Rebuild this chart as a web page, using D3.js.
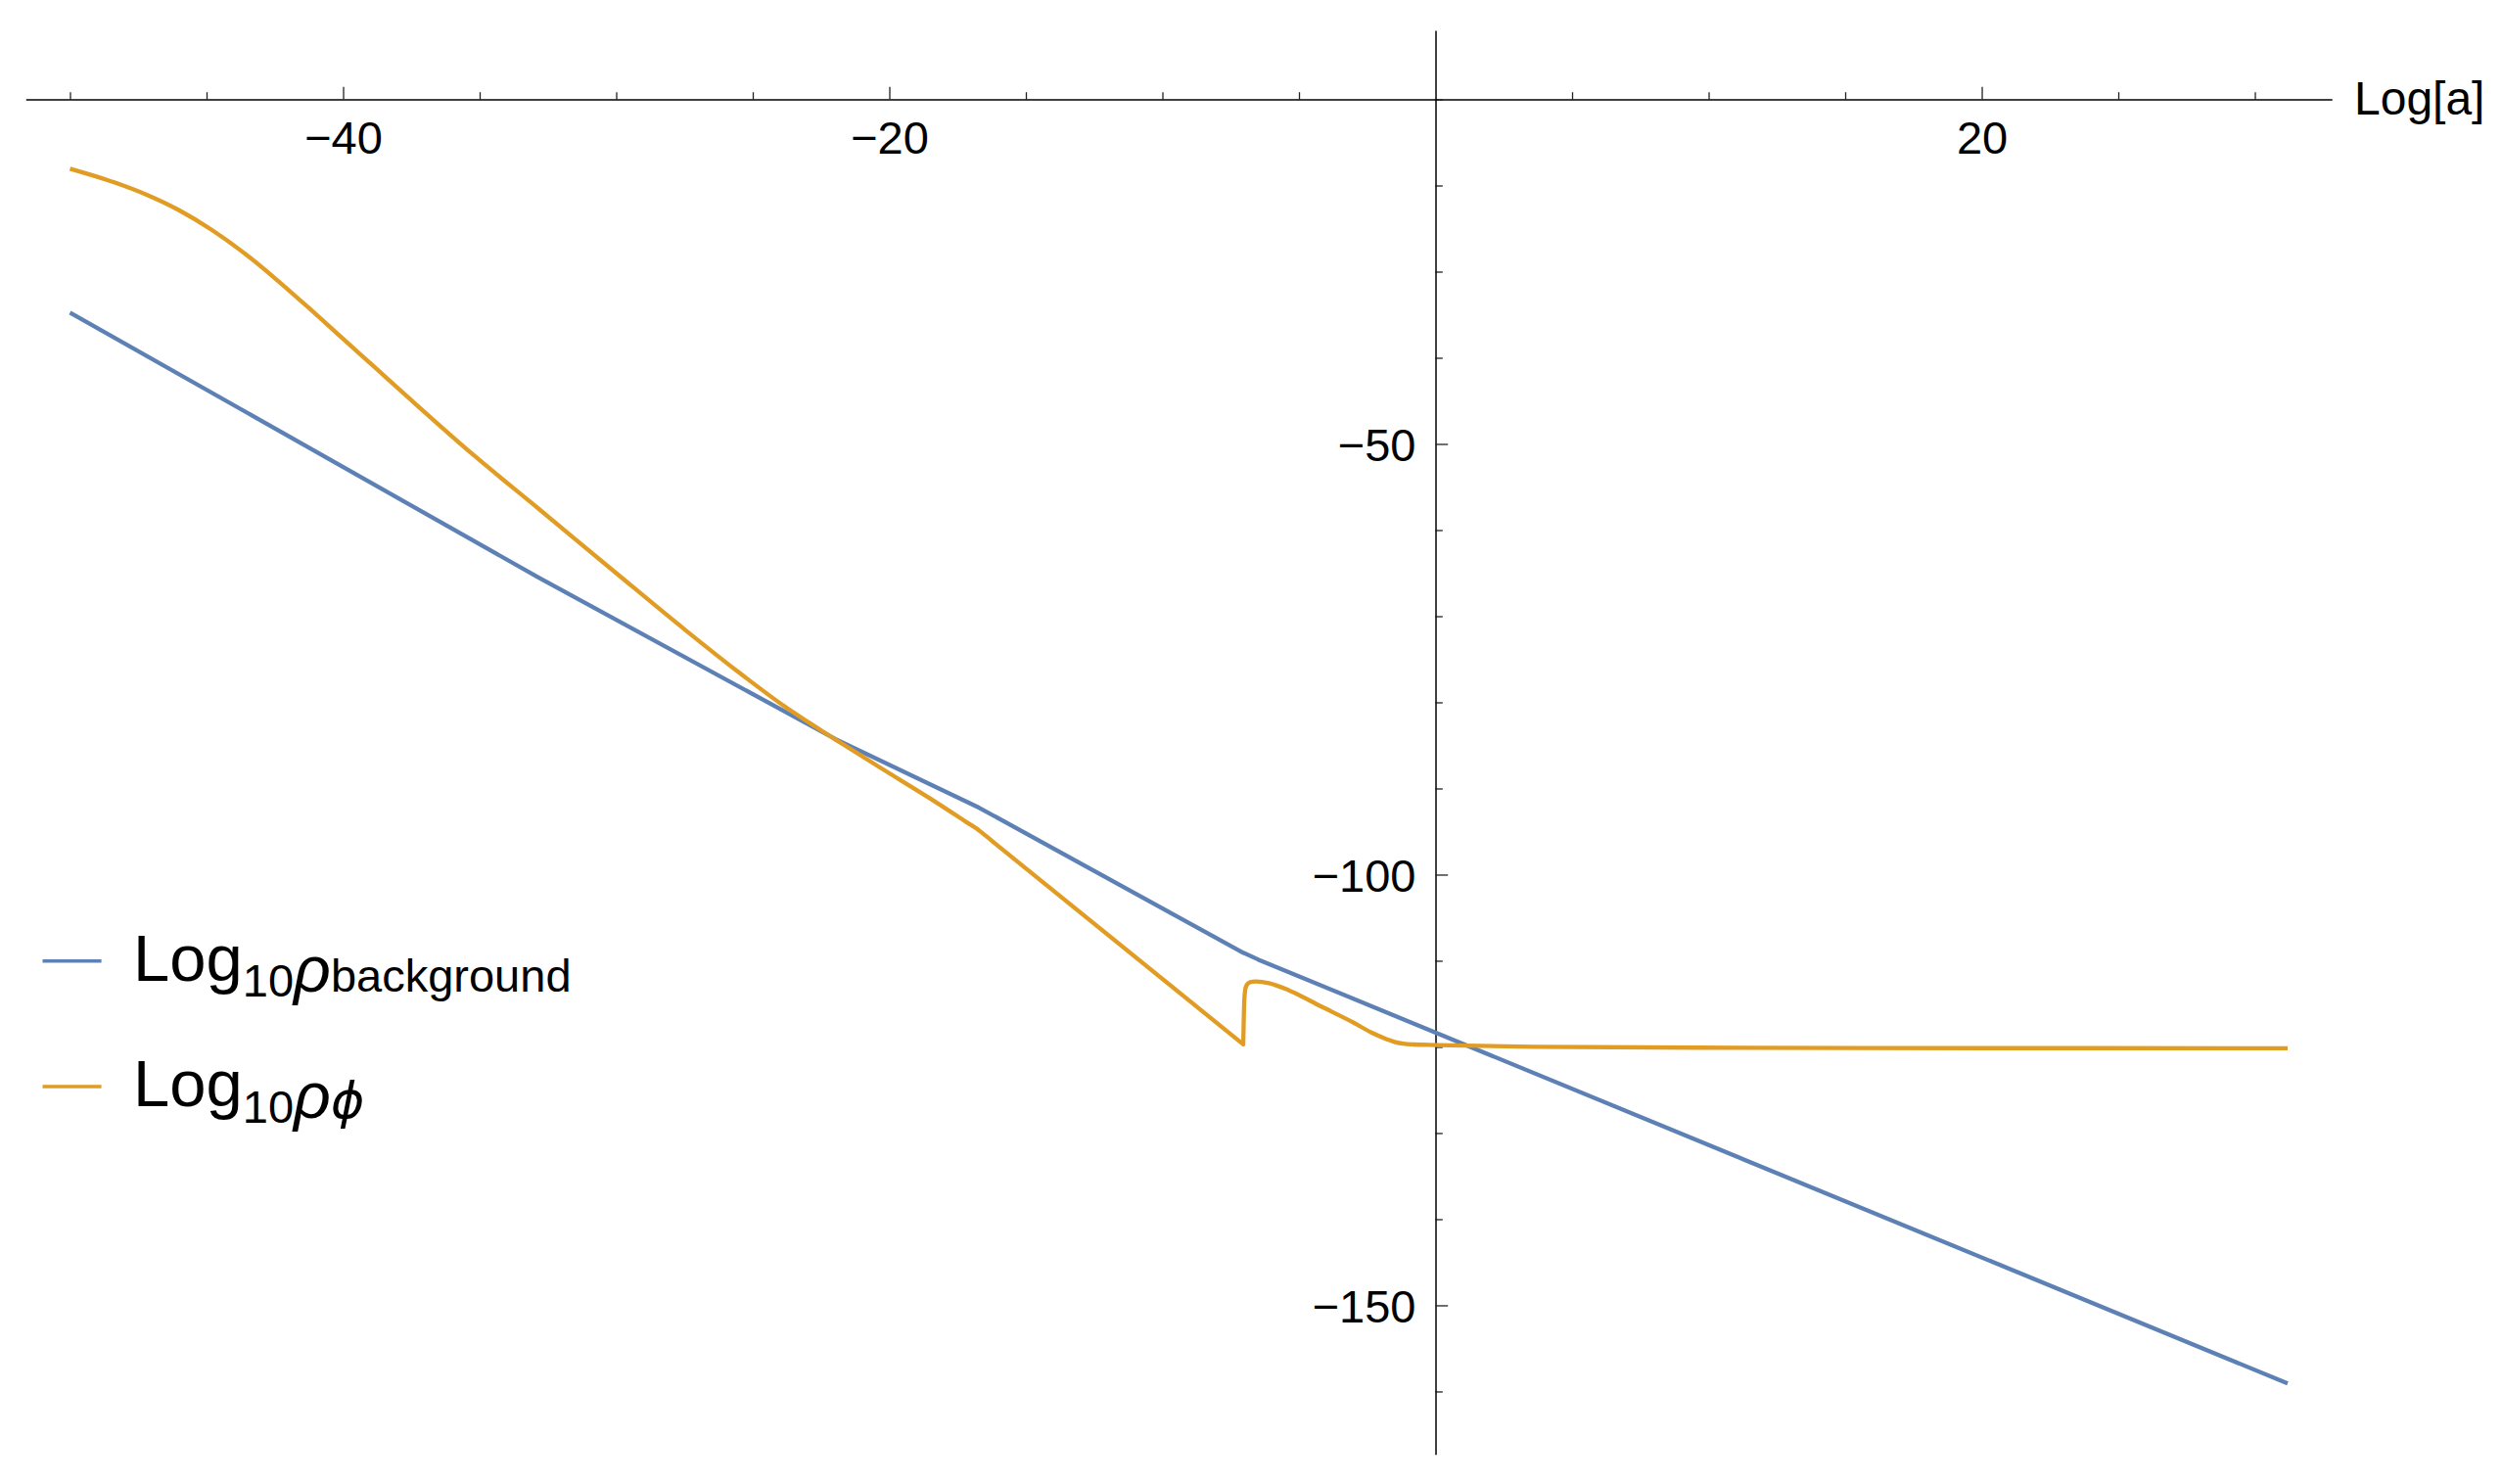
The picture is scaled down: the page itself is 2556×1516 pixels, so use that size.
<!DOCTYPE html>
<html>
<head>
<meta charset="utf-8">
<script src="https://cdn.jsdelivr.net/npm/d3@7"></script>
<style>
  body { margin: 0; background: #fff; }
  svg { display: block; }
</style>
</head>
<body>
<div class="chart"></div>
<script>
// values: [Log[a], Log10 rho]
const backgroundPoints = [
  [-50, -34.75], [-32.85, -65.5], [-21.98, -84.26], [-16.72, -92.22],
  [-7.04, -109.07], [-6.5, -109.85], [31.2, -159.07]
];
// phi before the jump
const phiBefore = [
  [-50, -18.05], [-48.38, -19.64], [-47.19, -21.08], [-45.99, -22.9],
  [-44.8, -25.17], [-43.6, -27.9], [-42.41, -31.0], [-41.21, -34.34],
  [-40.02, -37.75], [-38.82, -41.16], [-37.63, -44.56], [-35.24, -51.25],
  [-32.85, -57.5], [-30.0, -65.0], [-27.47, -71.6], [-25.6, -76.3],
  [-23.89, -80.35], [-21.98, -84.3], [-20.3, -87.65], [-18.51, -91.15],
  [-17.2, -93.85], [-16.72, -94.85], [-16.2, -96.2], [-7.04, -119.7]
];
// phi from the jump on
const phiAfter = [
  [-7.04, -119.7], [-7.0, -114.5], [-6.95, -113.1],
  [-6.85, -112.6], [-6.7, -112.43], [-6.57, -112.41], [-6.1, -112.6],
  [-5.37, -113.43], [-4.18, -115.32], [-2.98, -117.22],
  [-2.37, -118.3], [-1.78, -119.11], [-1.47, -119.45], [-1.19, -119.63],
  [-0.8, -119.72], [0.01, -119.78], [3.59, -119.98], [9.56, -120.09],
  [15.54, -120.14], [31.2, -120.15]
];
const xTickMajor = [-40, -20, 20];
const xTickMinor = [-50, -45, -35, -30, -25, -15, -10, -5, 5, 10, 15, 25, 30];
const yTickMajor = [-50, -100, -150];
const yTickMinor = [-10, -20, -30, -40, -60, -70, -80, -90, -110, -120, -130, -140, -160];
const xAxisLabel = "Log[a]";
const legendSubs = ["background", "\u03D5"];
const seriesColors = ["#5E81B5", "#E19C24"];

const svgWidth = 2556;
const svgHeight = 1516;
const font = '"Liberation Sans", Arial, sans-serif';
const minus = (d) => (d < 0 ? "\u2212" + Math.abs(d) : "" + d);

const svg = d3.select(".chart").append("svg")
  .attr("width", svgWidth)
  .attr("height", svgHeight);

const xScale = d3.scaleLinear().domain([-51.62, 32.82]).range([26.3, 2382.2]);
const yScale = d3.scaleLinear().domain([-167.3, -2]).range([1485.7, 31.1]);

const xAxisY = yScale(-10);
const yAxisX = xScale(0);

// x axis: ticks point up, labels below
const xMinorG = svg.append("g")
  .attr("transform", `translate(0, ${xAxisY})`)
  .call(d3.axisBottom(xScale).tickValues(xTickMinor).tickFormat("").tickSize(-7.3).tickSizeOuter(0));
xMinorG.select(".domain").remove();

const xAxisG = svg.append("g")
  .attr("transform", `translate(0, ${xAxisY})`)
  .call(d3.axisBottom(xScale).tickValues(xTickMajor).tickFormat(minus)
    .tickSize(-12.7).tickSizeOuter(0).tickPadding(22));
xAxisG.attr("font-size", 47).attr("font-family", font);
xAxisG.select(".domain").attr("stroke", "#000").attr("stroke-width", 1.5);

// y axis: ticks point right, labels left
const yMinorG = svg.append("g")
  .attr("transform", `translate(${yAxisX}, 0)`)
  .call(d3.axisLeft(yScale).tickValues(yTickMinor).tickFormat("").tickSize(-7.3).tickSizeOuter(0));
yMinorG.select(".domain").remove();

const yAxisG = svg.append("g")
  .attr("transform", `translate(${yAxisX}, 0)`)
  .call(d3.axisLeft(yScale).tickValues(yTickMajor).tickFormat(minus)
    .tickSize(-12.7).tickSizeOuter(0).tickPadding(20));
yAxisG.attr("font-size", 47).attr("font-family", font);
yAxisG.selectAll(".tick text").attr("dy", "0.36em");
yAxisG.select(".domain").attr("stroke", "#000").attr("stroke-width", 1.5);

svg.selectAll(".tick line").attr("stroke", "#222").attr("stroke-width", 1.3);

svg.append("text")
  .attr("x", 2405)
  .attr("y", 117)
  .attr("font-family", font)
  .attr("font-size", 48)
  .attr("fill", "black")
  .text(xAxisLabel);

// curves
const straight = d3.line()
  .x((d) => xScale(d[0]))
  .y((d) => yScale(d[1]));
const smooth = d3.line()
  .x((d) => xScale(d[0]))
  .y((d) => yScale(d[1]))
  .curve(d3.curveMonotoneX);

svg.append("path")
  .attr("d", straight(backgroundPoints))
  .attr("fill", "none")
  .attr("stroke", seriesColors[0])
  .attr("stroke-width", 4.3)
  .attr("stroke-linejoin", "round");

// one path, two smooth pieces joined at the sharp bottom of the jump
const phiPath = smooth(phiBefore) + smooth(phiAfter).replace(/^M/, "L");
svg.append("path")
  .attr("d", phiPath)
  .attr("fill", "none")
  .attr("stroke", seriesColors[1])
  .attr("stroke-width", 4.3)
  .attr("stroke-linejoin", "round");

// legend
const legendBase = [1001.7, 1130];
legendSubs.forEach((sub, i) => {
  const base = legendBase[i];
  svg.append("line")
    .attr("x1", 43.5).attr("x2", 103.6)
    .attr("y1", base - 20).attr("y2", base - 20)
    .attr("stroke", seriesColors[i])
    .attr("stroke-width", 3.4);
  const t = svg.append("text")
    .attr("x", 136)
    .attr("y", base)
    .attr("font-family", font)
    .attr("font-size", 67)
    .attr("fill", "black");
  t.append("tspan").text("Log");
  t.append("tspan").attr("font-size", 47).attr("dy", 16.6).text("10");
  t.append("tspan").attr("font-size", 66).attr("font-style", "italic").attr("dy", -5).text("\u03C1");
  t.append("tspan")
    .attr("font-size", i === 0 ? 47 : 52)
    .attr("font-style", i === 0 ? "normal" : "italic")
    .attr("font-family", i === 0 ? font : '"DejaVu Sans", ' + font)
    .text(sub);
});
</script>
</body>
</html>
